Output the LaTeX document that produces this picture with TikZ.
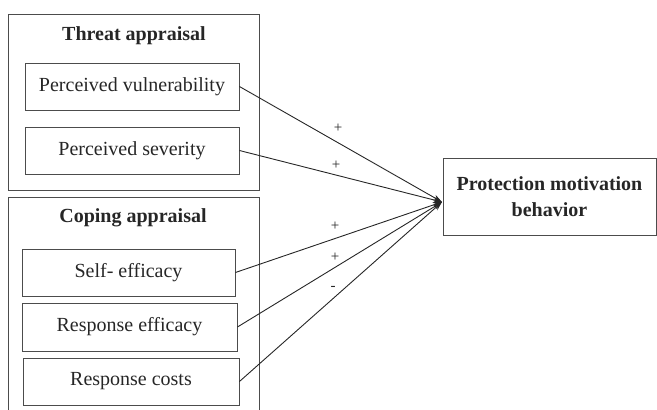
\documentclass[tikz,border=0pt]{standalone}
\usepackage{fontspec}
\setmainfont{Liberation Serif}
\usetikzlibrary{arrows.meta}
\begin{document}
\begin{tikzpicture}[x=1pt,y=-1pt,
  box/.style={draw=black!70, line width=0.9pt, inner sep=0pt, text=black!85, font=\fontsize{20}{22}\selectfont},
  grp/.style={draw=black!70, line width=0.9pt, inner sep=0pt},
  head/.style={text=black!85, font=\fontsize{20}{22}\selectfont\bfseries},
  conn/.style={draw=black!85, line width=0.9pt, -{Stealth[length=9pt,width=6pt]}},
  sign/.style={text=black!85, font=\fontsize{15}{16}\selectfont, inner sep=0pt}]
\useasboundingbox (0,0) rectangle (657,410);
\node[grp, minimum width=251, minimum height=176] (threat) at (133.5,102) {};
\node[grp, minimum width=251, minimum height=226] (coping) at (133.5,310) {};
\node[head] (th) at (134,36) {Threat appraisal};
\node[head] (ch) at (133,218) {Coping appraisal};
\node[box, minimum width=214, minimum height=47] (pv) at (132,86.5) {Perceived vulnerability};
\node[box, minimum width=214, minimum height=47] (ps) at (132,150.5) {Perceived severity};
\node[box, minimum width=213, minimum height=47] (se) at (128.5,272.5) {Self- efficacy};
\node[box, minimum width=215, minimum height=48] (re) at (129.5,327) {Response efficacy};
\node[box, minimum width=216, minimum height=47] (rc) at (131,381.5) {Response costs};
\node[box, minimum width=213, minimum height=77, align=center, font=\fontsize{20}{26}\selectfont\bfseries] (pmb) at (549.5,196.5) {Protection motivation\\behavior};
\coordinate (tip) at (442,202);
\draw[conn] (pv.east) -- (tip);
\draw[conn] (ps.east) -- (tip);
\draw[conn] (se.east) -- (tip);
\draw[conn] (re.east) -- (tip);
\draw[conn] (rc.east) -- (tip);
\node[sign] (s1) at (338,128) {+};
\node[sign] (s2) at (336,165) {+};
\node[sign] (s3) at (335,226) {+};
\node[sign] (s4) at (335,257) {+};
\node[sign] (s5) at (333,288) {-};
\end{tikzpicture}
\end{document}
